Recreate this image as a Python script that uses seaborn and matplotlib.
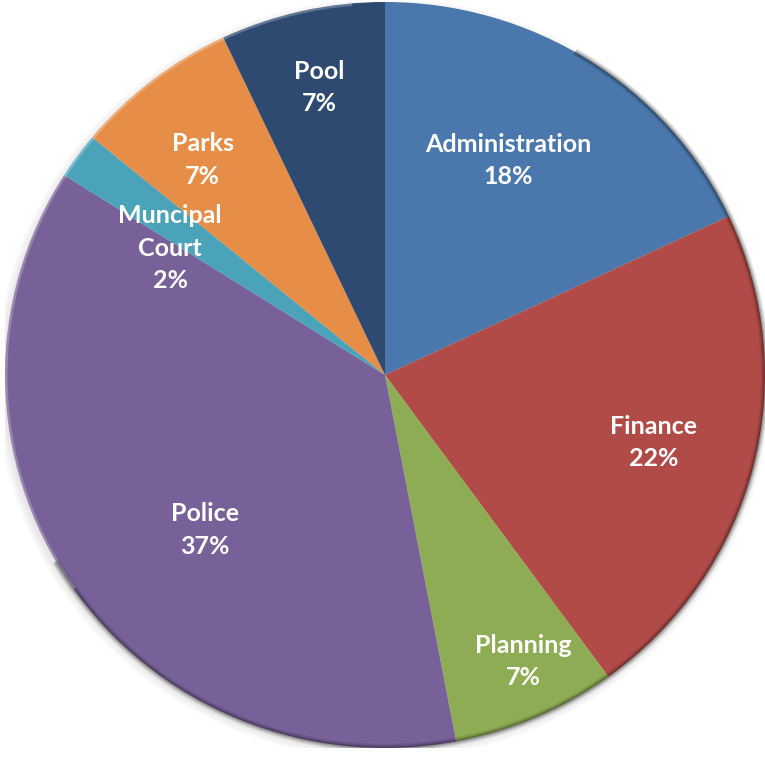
import numpy as np
import matplotlib
matplotlib.use("Agg")
import matplotlib.pyplot as plt
from matplotlib.patches import Arc, Ellipse
import seaborn as sns

# Department share of budget (percent)
departments = ["Administration", "Finance", "Planning", "Police",
               "Muncipal\nCourt", "Parks", "Pool"]
shares = [18, 22, 7, 37, 2, 7, 7]
colors = ["#4A78AC", "#B04B48", "#8EAC54", "#786098",
          "#4BA3B9", "#E68E48", "#2E4A70"]

# label placement: radial fraction and small angular nudge (degrees)
label_radius = [0.66, 0.73, 0.85, 0.63, 0.66, 0.75, 0.79]
label_nudge = [-3, 0, -2, -7, -5, -2, 0]

sns.set_theme(style="white")
plt.rcParams["font.family"] = ["Lato", "DejaVu Sans"]

W, H = 765, 758
fig = plt.figure(figsize=(W / 100, H / 100), dpi=100)
ax = fig.add_axes([5 / W, (H - 748) / H, 760 / W, 746 / H])

palette = sns.color_palette(colors)

# soft drop shadow under the disc, offset down-left
for i in range(8):
    s = 1.0 + 0.003 * i
    ax.add_patch(Ellipse((-0.004, -0.01), 2 * s, 2 * s,
                         facecolor="black", alpha=0.012, lw=0, zorder=0))

wedges, _ = ax.pie(shares, colors=palette, startangle=90, counterclock=False,
                   radius=1.0, center=(0, 0),
                   wedgeprops=dict(linewidth=0, zorder=1))

# bevel: darker rim on the lower right, lighter rim on the upper left
for lw, a in [(6, 0.08), (4, 0.12), (2, 0.20)]:
    ax.add_patch(Arc((0, 0), 2, 2, theta1=-150, theta2=60,
                     color="black", lw=lw, alpha=a, zorder=2))
ax.add_patch(Arc((0, 0), 1.994, 1.994, theta1=95, theta2=215,
                 color="white", lw=2, alpha=0.25, zorder=2))

# labels
total = sum(shares)
cum = 0
for name, v, r, nudge in zip(departments, shares, label_radius, label_nudge):
    mid = (cum + v / 2) / total * 360 + nudge
    cum += v
    th = np.deg2rad(mid)
    x, y = r * np.sin(th), r * np.cos(th)
    ax.text(x, y, f"{name}\n{v}%", ha="center", va="center",
            color="white", fontsize=18, fontweight="bold",
            linespacing=1.5, zorder=3)

ax.set_xlim(-1, 1)
ax.set_ylim(-1, 1)
ax.set_aspect("auto")
ax.axis("off")

fig.savefig("out.png", dpi=100, facecolor="white")
